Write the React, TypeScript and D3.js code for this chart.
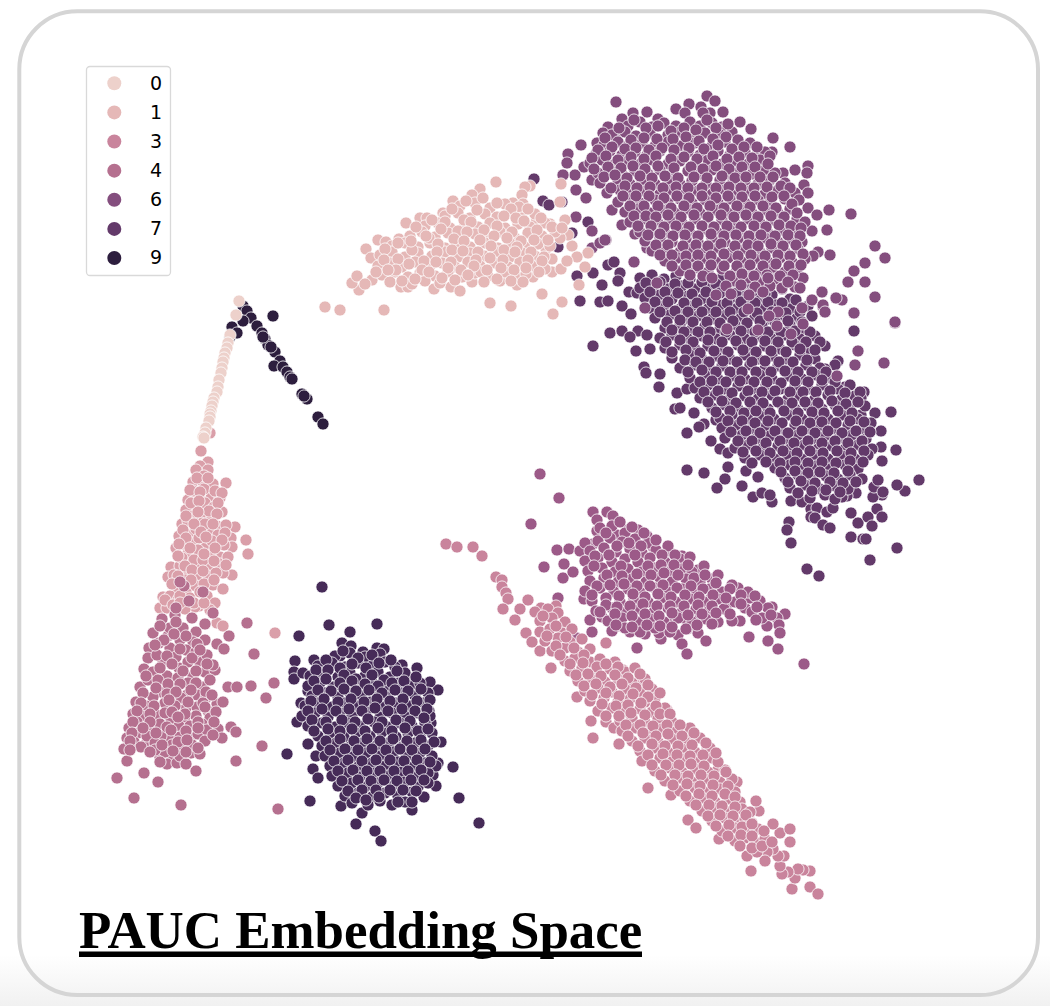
import React, { useEffect, useRef } from "react";
import * as d3 from "d3";

type Pt = [number, number];

const legendLabels = ["0", "1", "3", "4", "6", "7", "9"];
const classIds = [0, 1, 2, 3, 4, 5, 6, 7, 8, 9];
const classColors = ["#edd1cb", "#e5b8b7", "#da9fa9", "#c9849c", "#b5708f", "#9c5a88", "#844e7e", "#633a6a", "#462b58", "#2d1e3e"];
const titleText = "PAUC Embedding Space";

// embedding values, one list per class
const class0: Pt[] = [[239,301],[236,315],[230,335],[228,343],[227,348],[225,353],[224,358],[223,362],[222,368],[221,373],[219,380],[218,387],[217,392],[214,398],[213,402],[212,406],[211,411],[210,414],[210,417],[209,421],[206,428],[205,433],[203,437],[204,438]];

const class1: Pt[] = [[325,307],[340,310],[384,310],[490,303],[511,306],[553,314],[562,302],[542,294],[579,285],[359,290],[352,283],[357,276],[372,280],[366,249],[371,258],[378,240],[386,242],[401,287],[408,287],[434,289],[451,287],[460,291],[472,282],[500,281],[517,285],[533,277],[552,272],[561,269],[585,267],[588,253],[572,246],[565,220],[560,202],[561,184],[530,186],[525,187],[522,195],[496,182],[480,189],[472,195],[453,201],[406,223],[420,218],[427,218],[443,213],[399,239],[410,239],[577,257],[568,235],[560,238],[567,261],[552,259],[538,262],[546,249],[550,224],[536,222],[513,203],[523,204],
[460,206],[475,203],[490,208],[505,204],[519,207],[445,216],[458,213],[470,218],[485,214],[497,217],[510,213],[522,218],[535,214],[425,226],[438,223],[450,228],[465,224],[478,227],[490,223],[505,228],[518,224],[530,227],[545,223],[410,236],[422,232],[435,237],[448,233],[460,238],[475,234],[488,237],[500,232],[515,238],[528,233],[542,236],[555,232],[392,246],[405,243],[418,247],[430,243],[445,248],[458,244],[470,247],[485,243],[498,248],[510,243],[525,247],[538,244],[550,246],[380,255],[392,252],[405,257],[418,253],[432,256],[445,252],[458,257],[470,253],[484,256],[498,252],[510,257],[522,253],[535,256],[378,266],[390,263],[402,267],[415,262],[430,266],[442,263],[455,267],[468,262],[480,266],[495,263],[508,267],[520,262],[532,266],[545,269],[382,275],[395,272],[408,277],[420,273],[435,276],[448,272],[462,277],[475,273],[488,276],[505,272],[518,277],[390,282],[412,284],[425,281],[440,283],[481,272],[526,274],
[466,201],[483,198],[497,203],[511,209],[528,209],[452,209],[464,220],[477,210],[504,216],[516,218],[541,218],[432,220],[445,222],[458,231],[471,222],[484,230],[497,226],[512,232],[524,221],[537,230],[552,227],[416,227],[429,238],[441,229],[454,239],[467,232],[480,240],[494,236],[507,238],[521,241],[534,240],[548,240],[562,228],[398,243],[412,250],[426,236],[438,244],[452,250],[464,241],[478,252],[491,246],[504,250],[517,247],[531,252],[544,257],[385,249],[398,259],[411,241],[424,261],[437,252],[451,262],[463,251],[476,260],[490,258],[503,260],[515,252],[528,260],[542,261],[384,260],[396,270],[409,264],[422,270],[436,262],[448,268],[461,270],[474,266],[487,270],[501,268],[514,270],[526,268],[539,272],[388,270],[402,281],[415,279],[429,272],[442,278],[455,280],[468,275],[484,282],[497,279],[511,281],[523,282],[376,272],[365,284]];

const class2: Pt[] = [[210,433],[201,451],[208,462],[200,466],[208,470],[193,482],[203,482],[213,484],[226,483],[199,496],[211,498],[220,498],[188,500],[197,507],[186,510],[222,512],[203,515],[182,524],[201,523],[217,526],[235,527],[226,525],[179,536],[190,535],[231,538],[246,540],[232,547],[206,547],[192,543],[176,548],[248,554],[188,553],[220,557],[171,567],[180,566],[208,566],[220,564],[197,563],[232,575],[223,573],[189,572],[168,577],[213,585],[223,589],[177,589],[163,597],[207,596],[215,603],[199,606],[160,608],[210,610],[217,623],[223,626],[275,633],[195,607],
[196,470],[204,489],[193,491],[215,491],[205,503],[214,507],[193,516],[212,517],[188,521],[209,530],[196,529],[218,535],[183,544],[199,538],[212,541],[224,545],[198,550],[210,555],[182,558],[194,560],[203,560],[228,557],[174,575],[185,580],[197,577],[208,576],[216,573],[186,592],[196,586],[204,584],[170,596],[178,600],[190,598],[167,608],[185,609],
[204,476],[197,478],[208,478],[190,490],[200,492],[222,493],[191,503],[199,501],[218,503],[209,511],[186,516],[198,512],[205,524],[217,514],[183,530],[194,524],[213,524],[225,533],[201,532],[186,538],[222,540],[206,537],[179,544],[204,554],[215,548],[178,556],[190,548],[214,561],[226,565],[185,566],[192,570],[203,571],[214,580],[178,576],[172,584],[191,580],[180,596],[200,592],[165,600],[173,605],[194,603],[204,603],[180,603]];

const class3: Pt[] = [[446,544],[457,547],[473,547],[482,556],[496,577],[502,580],[502,587],[506,593],[508,599],[503,609],[528,600],[520,609],[515,620],[526,633],[532,642],[540,651],[551,668],[577,697],[593,738],[591,721],[606,722],[614,728],[619,744],[648,788],[671,795],[688,820],[696,828],[719,839],[751,871],[747,856],[792,889],[810,887],[818,894],[795,878],[810,871],[803,870],[798,869],[788,872],[782,874],[780,866],[784,856],[778,856],[773,849],[767,852],[765,861],[757,852],[790,842],[780,833],[790,829],[773,824],[759,811],[756,801],[752,823],[737,782],[718,770],[725,770],[707,750],[692,735],[667,710],[650,688],[639,681],[623,670],[611,665],[606,643],[556,606],[541,608],
[535,612],[548,609],[558,613],[540,621],[552,618],[565,622],[540,632],[550,629],[562,633],[572,629],[545,641],[558,638],[570,642],[582,639],[552,651],[565,648],[578,652],[590,649],[565,661],[575,658],[590,662],[600,659],[615,662],[570,671],[582,668],[595,672],[610,669],[625,672],[635,668],[578,681],[590,678],[605,682],[618,679],[632,683],[645,679],[585,691],[598,688],[612,692],[625,689],[640,692],[652,689],[590,701],[604,698],[618,702],[630,699],[645,702],[655,698],[598,711],[612,708],[625,712],[640,709],[652,712],[665,708],[620,721],[632,718],[645,722],[658,719],[672,722],[622,731],[636,728],[650,732],[662,729],[675,732],[690,728],[632,741],[645,738],[658,742],[672,739],[685,742],[700,738],[640,751],[655,748],[668,752],[682,749],[695,752],[710,748],[642,761],[660,758],[672,762],[685,759],[698,762],[712,758],[718,762],[655,771],[670,768],[682,772],[695,769],[708,772],[665,781],[680,778],[692,782],[705,779],[720,782],[732,779],[680,791],[695,788],[708,792],[720,789],[735,792],[690,801],[702,798],[715,802],[728,799],[740,802],[702,811],[715,808],[728,812],[742,809],[750,812],[712,821],[725,818],[738,822],[745,819],[722,831],[735,828],[748,832],[758,829],[735,841],[745,838],[755,842],[765,839],
[543,616],[556,626],[547,636],[566,637],[556,646],[574,648],[584,655],[560,655],[570,664],[583,663],[597,667],[606,664],[618,667],[576,675],[588,674],[601,676],[615,675],[628,678],[640,674],[584,686],[596,684],[610,687],[622,684],[636,688],[648,685],[592,695],[606,693],[619,696],[633,694],[648,697],[660,693],[602,704],[616,706],[628,705],[641,703],[656,706],[606,716],[619,716],[631,713],[645,715],[660,714],[670,714],[626,725],[640,725],[653,726],[667,725],[680,725],[628,736],[643,733],[656,736],[668,734],[682,736],[694,733],[638,746],[652,744],[665,746],[678,746],[692,745],[706,743],[648,755],[663,754],[677,755],[690,756],[703,755],[716,753],[652,765],[666,765],[679,765],[691,764],[704,766],[661,775],[675,775],[688,776],[701,775],[714,776],[726,772],[673,785],[687,784],[700,786],[713,785],[728,786],[686,796],[699,794],[712,796],[725,794],[735,797],[696,805],[709,805],[722,806],[735,807],[708,816],[720,815],[733,816],[746,815],[716,826],[729,825],[742,827],[752,824],[728,836],[741,835],[752,836],[764,831],[740,846],[752,848],[762,846],[772,842]];

const class4: Pt[] = [[247,623],[229,636],[217,644],[224,649],[254,654],[205,624],[192,618],[162,619],[175,615],[153,633],[168,636],[183,628],[196,632],[193,642],[149,648],[159,643],[148,658],[163,662],[179,668],[199,661],[144,669],[205,672],[215,670],[213,665],[193,676],[140,687],[161,692],[203,687],[228,687],[237,687],[251,686],[274,683],[266,698],[136,702],[197,695],[187,695],[217,704],[223,702],[133,714],[157,715],[186,708],[208,711],[129,728],[146,721],[171,719],[185,717],[210,718],[202,724],[179,726],[153,729],[127,738],[218,729],[231,727],[236,732],[222,738],[191,738],[169,737],[124,749],[146,744],[183,747],[262,746],[127,761],[160,757],[173,758],[191,753],[200,754],[236,761],[167,764],[177,763],[196,771],[117,778],[144,773],[158,782],[134,798],[181,805],[278,809],[184,586],[180,582],[189,601],[203,592],[213,613],[176,608],
[170,628],[180,640],[205,640],[170,648],[186,650],[196,652],[157,655],[176,657],[188,662],[207,655],[153,672],[167,676],[178,678],[188,683],[148,680],[172,688],[153,697],[181,698],[206,698],[146,706],[165,703],[175,706],[197,707],[142,716],[165,713],[196,716],[137,722],[160,724],[190,726],[138,733],[147,736],[161,736],[180,737],[198,734],[207,730],[134,742],[155,743],[172,745],[192,745],[205,741],[165,752],[180,756],[155,750],[186,764],
[160,626],[176,622],[186,636],[164,640],[174,634],[197,644],[155,645],[167,656],[180,649],[192,658],[200,650],[160,668],[172,664],[183,671],[196,671],[207,664],[146,676],[158,680],[168,684],[180,684],[196,683],[210,680],[143,693],[156,688],[167,694],[176,692],[191,690],[206,692],[141,703],[154,706],[169,700],[188,702],[203,703],[212,695],[137,711],[150,714],[172,712],[185,714],[205,707],[216,712],[133,722],[150,722],[167,727],[178,717],[198,722],[214,722],[132,733],[143,728],[156,733],[171,730],[186,731],[198,728],[130,741],[141,747],[162,745],[178,742],[187,740],[213,735],[130,750],[150,752],[160,762],[173,751],[186,752],[198,748]];

const class5: Pt[] = [[540,474],[559,498],[531,524],[557,550],[569,549],[544,567],[564,564],[563,578],[573,572],[580,551],[593,512],[607,512],[597,520],[613,516],[558,598],[577,638],[592,632],[590,620],[584,599],[602,617],[618,626],[630,632],[645,634],[637,648],[661,639],[659,633],[678,635],[682,644],[687,654],[698,633],[706,641],[749,637],[768,641],[778,649],[804,664],[785,614],[777,618],[779,625],[780,633],[767,626],[772,607],[760,601],[745,608],[738,588],[732,585],[740,621],[732,621],[726,607],[712,579],[698,570],[682,556],[669,551],[653,547],[647,536],[638,530],[627,530],[617,535],[603,535],[593,544],[585,543],[597,531],[687,629],[673,619],[712,617],[700,617],[711,598],[686,619],
[600,528],[612,526],[625,533],[598,541],[610,538],[622,542],[635,539],[648,543],[590,551],[604,548],[616,552],[630,549],[642,553],[656,550],[585,561],[598,558],[612,562],[625,559],[638,562],[650,558],[665,562],[680,559],[588,571],[602,568],[615,572],[628,569],[642,572],[655,568],[668,572],[682,569],[692,572],[590,581],[604,578],[618,582],[632,579],[646,582],[660,578],[672,582],[686,579],[700,582],[712,588],[585,591],[600,588],[614,592],[628,589],[640,592],[655,588],[668,592],[682,589],[695,592],[710,589],[722,592],[730,589],[592,601],[606,598],[620,602],[634,599],[648,602],[662,598],[676,602],[690,599],[704,602],[718,599],[735,602],[750,598],[596,611],[612,608],[626,612],[640,609],[654,612],[668,608],[682,612],[696,609],[708,612],[724,609],[752,612],[768,608],[608,621],[622,618],[638,622],[650,619],[664,622],[678,618],[692,622],[706,619],[718,622],[762,618],[612,631],[625,628],[640,632],[655,628],[670,632],[686,629],
[620,522],[632,527],[644,533],[656,540],[668,546],[690,557],[704,566],[718,575],[748,592],[755,596],[606,533],[617,546],[629,543],[641,546],[662,555],[675,555],[595,556],[609,555],[621,566],[635,555],[648,566],[661,565],[674,565],[688,565],[594,566],[607,575],[622,576],[637,574],[651,575],[664,573],[678,575],[694,578],[705,575],[597,586],[610,585],[624,584],[637,586],[650,586],[663,585],[677,588],[691,586],[703,589],[716,583],[592,595],[606,605],[619,596],[633,594],[645,597],[658,594],[671,597],[685,595],[699,597],[713,595],[726,598],[741,595],[600,612],[617,607],[630,606],[643,604],[657,606],[670,606],[684,606],[698,605],[712,606],[741,604],[757,607],[615,614],[632,616],[645,614],[659,616],[672,613],[688,615],[702,614],[716,613],[730,614],[756,620],[771,615],[616,625],[632,627],[647,625],[660,626],[672,627],[697,625],[712,624]];

const class6: Pt[] = [[616,102],[707,96],[715,101],[689,104],[676,109],[701,107],[723,112],[710,113],[703,113],[685,113],[740,122],[751,129],[647,112],[658,119],[633,113],[622,119],[608,127],[603,133],[616,135],[581,145],[568,154],[567,163],[563,175],[575,175],[576,190],[586,198],[584,167],[592,180],[597,143],[603,152],[607,165],[612,210],[622,225],[635,234],[647,248],[634,262],[606,240],[592,231],[576,217],[592,248],[600,243],[605,240],[563,175],[773,138],[790,147],[772,152],[808,166],[807,173],[795,170],[783,173],[804,185],[808,193],[808,208],[829,210],[851,214],[827,230],[817,215],[812,231],[830,255],[818,252],[813,256],[875,246],[885,258],[865,263],[854,271],[848,282],[865,282],[875,297],[822,292],[836,298],[842,300],[812,300],[854,313],[895,323],[823,307],[825,312],
[628,126],[640,122],[652,127],[664,123],[676,126],[690,122],[700,126],[712,123],[722,127],[612,135],[625,132],[636,136],[650,133],[668,135],[680,132],[693,136],[705,133],[720,135],[732,132],[604,145],[618,142],[628,146],[642,143],[655,146],[668,142],[680,146],[695,143],[712,146],[725,142],[738,146],[750,143],[596,154],[610,151],[622,155],[635,152],[647,155],[660,151],[675,155],[688,152],[700,155],[718,151],[730,155],[745,152],[757,155],[765,152],[590,163],[602,160],[615,164],[628,161],[640,164],[652,160],[668,164],[680,161],[695,164],[708,160],[722,164],[735,161],[748,164],[760,160],[598,173],[610,170],[622,174],[635,171],[648,174],[660,170],[672,174],[688,171],[700,174],[712,170],[728,174],[740,171],[752,174],[765,170],[775,173],[600,183],[618,180],[630,184],[642,181],[655,184],[668,180],[680,184],[692,181],[706,184],[720,180],[732,184],[745,181],[758,184],[770,180],[785,183],[607,193],[620,190],[632,194],[645,191],[660,194],[672,190],[685,194],[698,191],[712,194],[725,190],[738,194],[750,191],[765,194],[778,190],[795,193],[618,202],[630,199],[640,203],[655,200],[668,203],[680,199],[692,203],[705,200],[718,203],[730,199],[745,203],[758,200],[770,203],[785,199],[625,212],[638,209],[650,213],[662,210],[675,213],[688,209],[700,213],[715,210],[728,213],[740,209],[752,213],[765,210],[778,213],[790,209],[630,222],[645,219],[658,223],[670,220],[682,223],[695,219],[708,223],[722,220],[735,223],[748,219],[760,223],[772,220],[785,223],[797,219],[805,222],[640,232],[652,229],[665,233],[678,230],[690,233],[705,229],[718,233],[730,230],[742,233],[755,229],[768,233],[782,230],[795,233],[645,241],[660,238],[672,242],[686,239],[698,242],[712,238],[725,242],[738,239],[752,242],[765,238],[778,242],[790,239],[802,242],[652,251],[665,248],[680,252],[692,249],[705,252],[718,248],[732,252],[745,249],[760,252],[772,248],[785,252],[798,249],[665,261],[678,258],[690,262],[702,259],[716,262],[728,258],[742,262],[755,259],[768,262],[780,258],[792,262],[805,259],[680,271],[695,268],[708,272],[722,269],[736,272],[748,268],[760,272],[772,269],[785,272],[798,268],[735,281],[748,278],[760,282],[775,279],[790,282],[803,278],
[634,120],[646,128],[658,126],[671,131],[684,128],[696,130],[707,120],[716,128],[728,124],[605,138],[619,128],[631,140],[644,138],[657,139],[673,139],[686,137],[699,141],[713,139],[726,137],[738,140],[598,150],[612,147],[625,149],[636,148],[649,150],[662,148],[674,150],[689,148],[704,149],[718,145],[732,149],[744,147],[757,147],[592,158],[606,156],[618,160],[631,157],[644,159],[656,156],[671,159],[684,157],[697,159],[713,156],[727,159],[739,157],[752,158],[770,156],[594,169],[608,167],[621,168],[633,166],[645,169],[658,166],[674,168],[691,167],[703,169],[716,166],[729,169],[742,167],[755,167],[768,164],[604,177],[615,175],[627,178],[640,176],[652,178],[665,176],[678,178],[694,177],[707,178],[722,176],[735,178],[746,177],[760,177],[773,177],[611,188],[625,186],[637,188],[650,187],[663,188],[676,187],[688,188],[702,188],[716,188],[729,187],[741,188],[754,188],[767,187],[781,186],[790,188],[623,196],[636,196],[649,196],[664,198],[677,196],[689,198],[702,196],[716,198],[728,196],[742,197],[755,196],[772,197],[784,196],[799,200],[630,206],[644,206],[658,206],[671,208],[684,206],[697,208],[710,206],[724,208],[737,206],[750,207],[763,206],[776,208],[792,204],[634,216],[646,216],[656,217],[668,215],[681,217],[694,215],[708,217],[721,215],[734,217],[746,215],[758,217],[771,216],[784,217],[797,213],[638,226],[651,226],[664,227],[676,226],[689,227],[702,226],[714,227],[727,226],[741,227],[754,226],[766,227],[779,225],[791,226],[801,228],[648,235],[660,234],[673,236],[685,235],[698,236],[711,234],[724,236],[736,235],[749,236],[761,235],[775,236],[788,235],[800,236],[656,245],[668,245],[683,246],[696,245],[708,246],[721,244],[735,246],[748,245],[758,246],[771,244],[783,246],[796,245],[660,255],[672,255],[686,256],[698,255],[711,256],[724,254],[738,256],[751,255],[765,256],[778,255],[790,256],[803,254],[672,266],[686,265],[698,266],[711,265],[724,266],[737,266],[750,265],[763,266],[776,264],[789,266],[801,265],[690,275],[703,276],[730,276],[742,274],[754,276],[767,275],[780,276],[793,275],[726,286],[741,285],[755,287],[770,286],[782,288],[795,287],
[657,283],[712,278],[716,295],[731,294],[749,295],[763,292],[768,278],[788,282],[800,288],[822,292],[812,300],[836,298],[802,308],[823,305],[825,312],[854,313],[895,322],[748,309],[778,312],[769,316],[777,326],[803,324],[758,330],[727,329],[791,334],[858,351],[855,365],[884,363],[837,376],[645,308]];

const class7: Pt[] = [[577,276],[593,273],[608,265],[614,262],[620,273],[602,285],[618,281],[580,301],[600,302],[608,301],[622,306],[631,314],[629,292],[637,293],[593,346],[610,333],[622,331],[638,331],[630,337],[647,335],[636,351],[650,349],[644,367],[646,373],[660,374],[659,387],[677,393],[687,389],[675,409],[680,408],[694,413],[704,424],[699,427],[716,420],[687,433],[711,441],[720,449],[728,453],[687,470],[704,473],[728,467],[725,479],[717,488],[742,486],[746,471],[758,477],[753,497],[762,493],[772,502],[770,495],[791,501],[802,502],[811,509],[817,508],[827,512],[833,508],[811,517],[815,518],[789,522],[787,530],[791,543],[823,525],[830,528],[851,513],[858,523],[868,517],[877,509],[882,517],[872,526],[851,537],[863,539],[866,539],[897,548],[870,560],[807,569],[819,576],[919,480],[905,491],[897,485],[882,495],[873,497],[874,487],[878,480],[883,492],[856,493],[847,496],[842,497],[896,450],[882,461],[881,447],[881,431],[891,412],[875,413],[861,415],[871,423],[864,392],[861,398],[849,401],[845,387],[838,361],[835,365],[825,369],[854,331],[534,179],[543,201],[549,205],[562,202],[588,222],[572,233],[558,247],
[640,278],[652,275],[664,279],[676,276],[690,279],[706,275],[722,278],[735,275],[745,279],[640,288],[655,285],[668,289],[682,286],[695,289],[710,285],[725,289],[742,286],[755,289],[768,285],[782,289],[645,298],[660,295],[672,299],[688,296],[702,299],[716,295],[730,299],[745,296],[760,299],[772,295],[790,299],[650,308],[665,305],[680,309],[692,306],[708,309],[722,305],[735,309],[750,306],[762,309],[776,305],[790,309],[808,306],[655,318],[670,315],[685,319],[698,316],[712,319],[726,315],[740,319],[755,316],[768,319],[782,315],[796,319],[812,316],[665,328],[680,325],[692,329],[705,326],[720,329],[735,325],[748,329],[762,326],[775,329],[790,325],[804,329],[660,338],[672,335],[688,339],[702,336],[716,339],[730,335],[745,339],[758,336],[772,339],[785,335],[800,339],[815,336],[665,348],[680,345],[695,349],[708,346],[722,349],[738,345],[750,349],[765,346],[780,349],[795,345],[808,349],[825,346],[672,358],[690,355],[702,359],[716,356],[730,359],[745,355],[758,359],[772,356],[786,359],[800,355],[815,359],[680,368],[695,365],[710,369],[722,366],[738,369],[750,365],[765,369],[778,366],[792,369],[806,365],[820,368],[690,378],[705,375],[718,379],[732,376],[745,379],[760,375],[772,379],[788,376],[802,379],[816,375],[830,378],[695,388],[708,385],[724,389],[738,386],[752,389],[766,385],[780,389],[795,386],[808,389],[822,385],[838,389],[850,385],[700,398],[715,395],[730,399],[745,396],[758,399],[772,395],[788,399],[800,396],[815,399],[828,395],[842,399],[855,396],[712,408],[725,405],[738,409],[752,406],[768,409],[782,405],[795,409],[808,406],[822,409],[835,405],[850,409],[865,406],[720,418],[732,415],[748,419],[760,416],[774,419],[788,415],[802,419],[815,416],[828,419],[842,415],[858,419],[722,428],[738,425],[752,429],[766,426],[780,429],[795,425],[808,429],[820,426],[835,429],[848,425],[862,429],[725,438],[742,435],[756,439],[770,436],[785,439],[798,435],[812,439],[825,436],[838,439],[852,435],[866,439],[735,448],[748,445],[762,449],[778,446],[790,449],[804,445],[818,449],[832,446],[845,449],[858,445],[872,449],[745,458],[760,455],[775,459],[788,456],[802,459],[815,455],[828,459],[842,456],[855,459],[868,455],[775,468],[790,465],[803,469],[816,466],[830,469],[845,465],[858,469],[785,478],[798,475],[812,479],[826,476],[838,479],[850,475],[862,479],[790,488],[805,485],[820,489],[835,486],[848,489],[810,498],[825,495],[835,499],
[646,283],[660,282],[675,284],[688,283],[702,282],[716,284],[733,282],[750,283],[775,281],[650,292],[665,292],[678,293],[692,294],[706,292],[720,293],[736,293],[752,292],[765,294],[655,302],[668,302],[684,303],[697,303],[712,302],[727,303],[741,302],[755,303],[768,302],[782,303],[796,300],[660,312],[675,311],[688,312],[702,312],[716,312],[730,312],[744,312],[757,313],[772,312],[786,313],[800,312],[667,322],[680,320],[693,322],[707,322],[720,323],[733,321],[747,323],[760,321],[775,322],[788,321],[802,322],[672,330],[684,332],[698,332],[710,332],[726,332],[741,331],[755,332],[768,332],[781,332],[795,331],[810,332],[666,342],[680,340],[693,342],[708,340],[722,342],[736,341],[752,342],[765,341],[778,342],[792,342],[806,342],[820,342],[672,352],[686,350],[700,353],[714,351],[728,352],[743,350],[756,352],[771,351],[786,352],[800,349],[815,350],[685,360],[696,362],[709,362],[723,361],[737,362],[752,362],[765,361],[779,362],[793,362],[807,360],[688,372],[702,370],[716,372],[730,372],[742,372],[756,372],[771,372],[785,371],[798,372],[812,372],[826,372],[700,382],[712,381],[726,382],[740,381],[754,382],[767,382],[781,383],[795,381],[808,382],[822,380],[835,382],[704,392],[718,391],[732,393],[748,391],[762,392],[775,391],[790,392],[803,392],[816,392],[830,391],[845,393],[860,392],[708,402],[722,401],[736,403],[750,402],[763,403],[778,402],[792,403],[805,402],[818,403],[832,401],[846,404],[858,402],[716,412],[730,411],[744,413],[756,411],[770,413],[784,411],[798,413],[812,412],[824,413],[838,411],[852,413],[728,421],[742,421],[755,423],[768,421],[782,423],[796,421],[810,423],[822,422],[836,423],[850,421],[864,422],[731,432],[746,431],[760,433],[775,431],[788,433],[802,431],[815,433],[828,431],[842,433],[856,431],[870,432],[738,441],[752,441],[766,443],[780,441],[794,443],[808,441],[822,443],[835,441],[848,443],[862,441],[743,452],[756,451],[770,453],[783,451],[797,453],[810,451],[823,453],[837,451],[851,453],[864,451],[752,463],[766,462],[780,463],[795,462],[808,463],[822,462],[836,463],[850,461],[863,462],[781,472],[795,471],[808,473],[820,472],[834,473],[848,471],[788,482],[801,481],[815,483],[830,482],[843,483],[856,482],[798,493],[812,491],[826,490],[840,492]];

const class8: Pt[] = [[322,587],[329,625],[350,632],[377,624],[299,636],[295,661],[294,672],[294,679],[287,754],[310,801],[313,769],[318,778],[341,806],[356,824],[362,813],[375,831],[381,841],[412,810],[436,786],[459,798],[479,823],[453,767],[441,742],[438,763],[433,775],[431,723],[429,711],[438,690],[430,682],[417,668],[402,665],[408,678],[297,722],[301,703],[308,744],[316,756],[314,660],[303,673],[308,691],[340,656],[342,643],[351,646],[363,652],[377,648],[384,649],
[335,656],[350,653],[365,657],[380,654],[318,666],[332,663],[345,667],[358,663],[372,666],[385,662],[395,667],[310,676],[322,673],[338,677],[350,673],[365,676],[378,672],[390,677],[405,673],[308,686],[320,683],[333,687],[345,683],[358,686],[372,682],[385,687],[398,683],[410,686],[420,683],[312,696],[325,693],[338,697],[350,693],[362,696],[376,692],[388,697],[402,693],[415,696],[428,693],[305,706],[318,703],[332,707],[345,703],[358,706],[370,702],[384,707],[396,703],[410,706],[424,703],[302,716],[315,713],[328,717],[340,713],[352,716],[366,712],[380,717],[392,713],[405,716],[418,713],[430,716],[308,726],[322,723],[335,727],[348,723],[360,726],[374,722],[388,727],[400,723],[412,726],[425,723],[318,736],[330,733],[344,737],[356,733],[370,736],[382,732],[396,737],[408,733],[420,736],[432,733],[322,746],[336,743],[350,747],[362,743],[376,746],[390,742],[402,747],[415,743],[428,746],[325,756],[340,753],[352,757],[366,753],[380,756],[394,752],[406,757],[420,753],[432,756],[330,766],[344,763],[358,767],[372,763],[385,766],[398,762],[412,767],[425,763],[436,766],[332,776],[348,773],[360,777],[375,773],[388,776],[402,772],[415,777],[428,773],[338,786],[352,783],[365,787],[378,783],[392,786],[405,782],[418,787],[428,783],[345,796],[358,793],[372,797],[385,793],[398,796],[412,792],[424,797],[352,803],[368,805],[380,801],[392,805],[405,802],
[343,651],[358,658],[372,655],[326,660],[340,668],[352,664],[366,668],[379,663],[391,660],[316,670],[328,670],[344,675],[356,679],[372,675],[384,680],[397,671],[314,681],[326,679],[340,683],[352,681],[365,684],[378,686],[392,683],[404,681],[416,677],[318,690],[331,691],[344,689],[356,691],[369,690],[382,693],[395,690],[408,691],[421,689],[311,701],[324,699],[338,702],[351,699],[364,702],[377,699],[390,701],[403,699],[417,701],[430,700],[308,711],[322,709],[336,711],[349,709],[362,711],[375,708],[388,711],[402,709],[415,711],[427,709],[312,720],[326,722],[342,720],[355,722],[368,719],[382,722],[396,720],[410,721],[424,718],[314,731],[328,729],[340,731],[352,729],[365,731],[378,728],[392,731],[405,728],[418,731],[428,729],[326,741],[340,739],[354,741],[367,739],[380,741],[393,739],[407,741],[421,740],[434,742],[330,750],[345,749],[358,750],[372,749],[386,750],[400,749],[412,750],[425,749],[334,761],[348,760],[362,761],[376,760],[390,760],[404,761],[417,760],[430,762],[338,771],[353,770],[367,771],[380,771],[394,771],[408,771],[421,770],[342,781],[358,780],[371,781],[384,780],[397,781],[411,780],[424,780],[348,791],[362,790],[376,790],[390,790],[403,790],[416,791],[356,798],[366,800],[379,797],[398,802],[412,802]];

const class9: Pt[] = [[243,306],[247,311],[251,318],[257,326],[273,316],[232,327],[230,337],[237,333],[243,321],[262,333],[265,339],[268,345],[275,352],[280,361],[274,366],[283,367],[287,372],[290,377],[292,379],[302,394],[307,399],[318,417],[323,424],[304,396],[263,337],[271,347]];

// drawn back to front, the paler groups sit on top in the picture
const classData: Record<number, Pt[]> = { 0: class0, 1: class1, 2: class2, 3: class3, 4: class4, 5: class5, 6: class6, 7: class7, 8: class8, 9: class9 };
const drawOrder = [8, 9, 7, 6, 5, 3, 2, 4, 1, 0];

const width = 1050;
const height = 1006;

const App = () => {
  const ref = useRef<SVGSVGElement | null>(null);

  useEffect(() => {
    const svg = d3.select(ref.current);
    svg.selectAll("*").remove();

    const x = d3.scaleLinear().domain([0, 1050]).range([0, width]);
    const y = d3.scaleLinear().domain([0, 1006]).range([0, height]);
    const color = d3.scaleOrdinal<number, string>().domain(classIds).range(classColors);

    // bottom of the page fades to grey under the card
    const grad = svg.append("defs").append("linearGradient").attr("id", "fade").attr("x1", 0).attr("x2", 0).attr("y1", 0).attr("y2", 1);
    grad.append("stop").attr("offset", "0%").attr("stop-color", "#ffffff");
    grad.append("stop").attr("offset", "100%").attr("stop-color", "#f1f1f1");
    svg.append("rect").attr("x", 0).attr("y", 955).attr("width", width).attr("height", 51).attr("fill", "url(#fade)");

    svg.append("rect")
      .attr("x", 19.3).attr("y", 11.3).attr("width", 1018.7).attr("height", 983.7)
      .attr("rx", 58).attr("ry", 58)
      .attr("fill", "none").attr("stroke", "#d5d5d5").attr("stroke-width", 4);

    drawOrder.forEach((id) => {
      svg.append("g")
        .selectAll("circle")
        .data(classData[id])
        .join("circle")
        .attr("cx", (d) => x(d[0]))
        .attr("cy", (d) => y(d[1]))
        .attr("r", 6.1)
        .attr("fill", color(id))
        .attr("stroke", "#ffffff")
        .attr("stroke-width", 0.8);
    });

    const legend = svg.append("g");
    legend.append("rect")
      .attr("x", 86.5).attr("y", 66.5).attr("width", 84).attr("height", 209)
      .attr("rx", 3.5)
      .attr("fill", "#ffffff").attr("fill-opacity", 0.8)
      .attr("stroke", "#d9d9d9").attr("stroke-width", 1.3);

    const legendY = d3.scalePoint<string>().domain(legendLabels).range([83.3, 258]);
    const rows = legend.selectAll("g.row").data(legendLabels).join("g").attr("class", "row")
      .attr("transform", (d) => `translate(0,${legendY(d)})`);
    rows.append("circle")
      .attr("cx", 114.3)
      .attr("r", 7)
      .attr("fill", (d) => color(+d));
    rows.append("text")
      .attr("x", 162)
      .attr("dy", "0.33em")
      .attr("text-anchor", "end")
      .style("font-family", "'DejaVu Sans'")
      .style("font-size", "19px")
      .attr("fill", "#000000")
      .text((d) => d);

    svg.append("text")
      .attr("x", 79)
      .attr("y", 948)
      .style("font-family", "'Liberation Serif'")
      .style("font-weight", "bold")
      .style("font-size", "52.9px")
      .attr("fill", "#000000")
      .text(titleText);
    svg.append("rect")
      .attr("x", 79).attr("y", 951.5).attr("width", 563).attr("height", 5.5)
      .attr("fill", "#000000");
  }, []);

  return <svg ref={ref} width={width} height={height} style={{ position: "absolute", left: 0, top: 0, background: "#ffffff" }} />;
};

export default App;
